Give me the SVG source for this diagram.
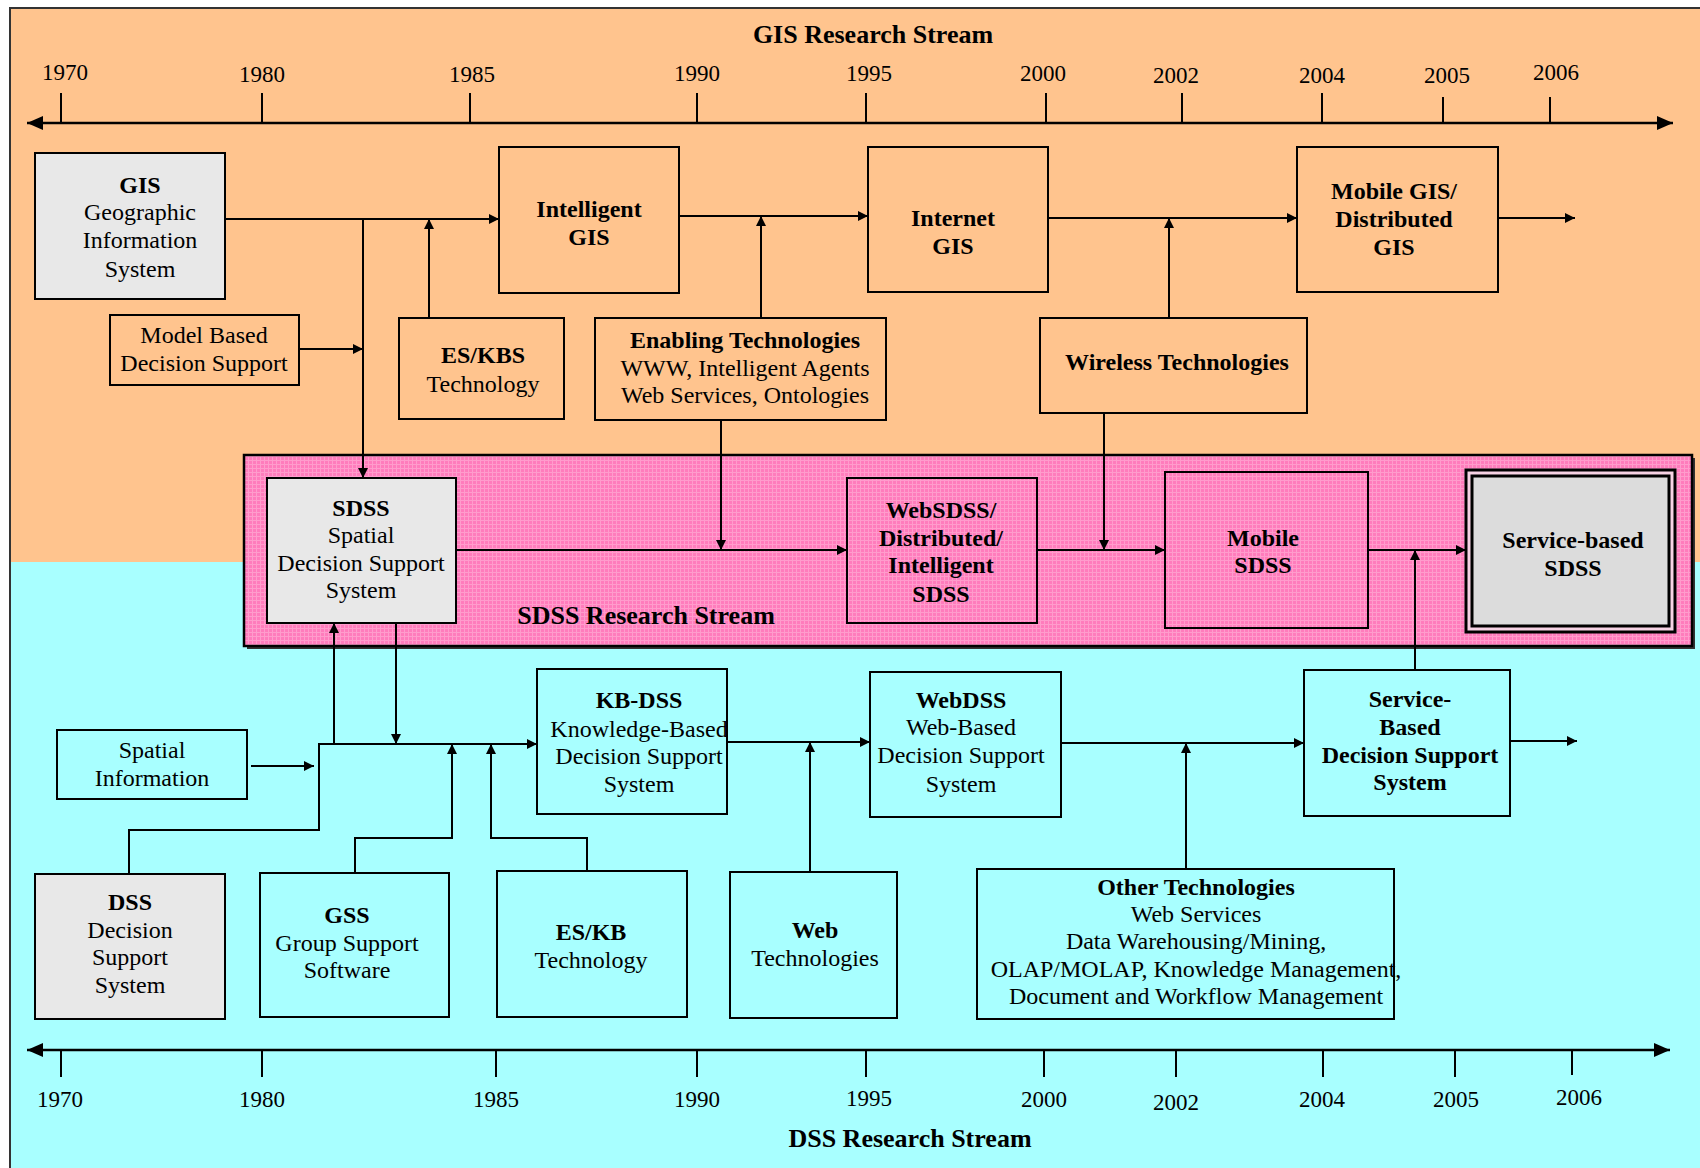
<svg xmlns="http://www.w3.org/2000/svg" width="1700" height="1168" viewBox="0 0 1700 1168">
  <defs>
    <style>
      text { font-family: "Liberation Serif", "Times New Roman", serif; fill: #000; }
      .t { font-size: 24px; text-anchor: middle; }
      .b { font-weight: bold; }
      .yr { font-size: 23px; text-anchor: middle; }
      .title { font-size: 26px; font-weight: bold; text-anchor: middle; }
      .box { stroke: #000; stroke-width: 2; }
      .gis { fill: #ffc48e; }
      .dss { fill: #a8ffff; }
      .grey { fill: #e8e8e8; }
      .pk { fill: none; }
      .conn { fill: none; stroke: #000; stroke-width: 2; }
      .axis { fill: none; stroke: #000; stroke-width: 2.5; }
      .tick { stroke: #000; stroke-width: 2; }
    </style>
    <marker id="arr" viewBox="0 0 10 10" refX="10" refY="5" markerWidth="10" markerHeight="10" markerUnits="userSpaceOnUse" orient="auto">
      <path d="M0,0 L10,5 L0,10 Z" fill="#000"/>
    </marker>
    <marker id="big" viewBox="0 0 16 14" refX="16" refY="7" markerWidth="16" markerHeight="14" markerUnits="userSpaceOnUse" orient="auto-start-reverse">
      <path d="M0,0 L16,7 L0,14 Z" fill="#000"/>
    </marker>
    <pattern id="mesh" width="4" height="4" patternUnits="userSpaceOnUse">
      <rect width="4" height="4" fill="#ff7cbc"/>
      <path d="M0,0.5 H4 M0.5,0 V4" stroke="#ff9ccc" stroke-width="1"/>
    </pattern>
  </defs>

  <!-- background panels -->
  <rect x="0" y="0" width="1700" height="1168" fill="#ffffff"/>
  <rect x="10" y="8" width="1690" height="554" fill="#ffc48e"/>
  <rect x="10" y="562" width="1690" height="606" fill="#a8ffff"/>
  <path d="M10,1168 V8 H1700" fill="none" stroke="#333" stroke-width="2"/>

  <!-- SDSS research band -->
  <g id="sdss-band">
    <rect x="247" y="458" width="1448" height="191" fill="#333"/>
    <rect x="244" y="455" width="1448" height="191" fill="url(#mesh)" stroke="#000" stroke-width="2.5"/>
    <text class="title" x="646" y="624">SDSS Research Stream</text>
  </g>

  <!-- timelines -->
  <g id="gis-timeline">
    <text class="title" x="873" y="43">GIS Research Stream</text>
    <line class="axis" x1="27" y1="123" x2="1673" y2="123" marker-start="url(#big)" marker-end="url(#big)"/>
    <line class="tick" x1="61" y1="93" x2="61" y2="123"/>
    <line class="tick" x1="262" y1="93" x2="262" y2="123"/>
    <line class="tick" x1="470" y1="93" x2="470" y2="123"/>
    <line class="tick" x1="697" y1="93" x2="697" y2="123"/>
    <line class="tick" x1="866" y1="93" x2="866" y2="123"/>
    <line class="tick" x1="1046" y1="93" x2="1046" y2="123"/>
    <line class="tick" x1="1182" y1="93" x2="1182" y2="123"/>
    <line class="tick" x1="1322" y1="93" x2="1322" y2="123"/>
    <line class="tick" x1="1443" y1="97" x2="1443" y2="123"/>
    <line class="tick" x1="1550" y1="97" x2="1550" y2="123"/>
    <text class="yr" x="65" y="80">1970</text>
    <text class="yr" x="262" y="82">1980</text>
    <text class="yr" x="472" y="82">1985</text>
    <text class="yr" x="697" y="81">1990</text>
    <text class="yr" x="869" y="81">1995</text>
    <text class="yr" x="1043" y="81">2000</text>
    <text class="yr" x="1176" y="83">2002</text>
    <text class="yr" x="1322" y="83">2004</text>
    <text class="yr" x="1447" y="83">2005</text>
    <text class="yr" x="1556" y="80">2006</text>
  </g>

  <g id="dss-timeline">
    <line class="axis" x1="27" y1="1050" x2="1670" y2="1050" marker-start="url(#big)" marker-end="url(#big)"/>
    <line class="tick" x1="61" y1="1050" x2="61" y2="1077"/>
    <line class="tick" x1="262" y1="1050" x2="262" y2="1077"/>
    <line class="tick" x1="496" y1="1050" x2="496" y2="1077"/>
    <line class="tick" x1="697" y1="1050" x2="697" y2="1077"/>
    <line class="tick" x1="866" y1="1050" x2="866" y2="1077"/>
    <line class="tick" x1="1044" y1="1050" x2="1044" y2="1077"/>
    <line class="tick" x1="1176" y1="1050" x2="1176" y2="1077"/>
    <line class="tick" x1="1323" y1="1050" x2="1323" y2="1077"/>
    <line class="tick" x1="1455" y1="1050" x2="1455" y2="1077"/>
    <line class="tick" x1="1572" y1="1050" x2="1572" y2="1075"/>
    <text class="yr" x="60" y="1107">1970</text>
    <text class="yr" x="262" y="1107">1980</text>
    <text class="yr" x="496" y="1107">1985</text>
    <text class="yr" x="697" y="1107">1990</text>
    <text class="yr" x="869" y="1106">1995</text>
    <text class="yr" x="1044" y="1107">2000</text>
    <text class="yr" x="1176" y="1110">2002</text>
    <text class="yr" x="1322" y="1107">2004</text>
    <text class="yr" x="1456" y="1107">2005</text>
    <text class="yr" x="1579" y="1105">2006</text>
    <text class="title" x="910" y="1147">DSS Research Stream</text>
  </g>

  <!-- connectors -->
  <g id="connectors">
    <!-- GIS stream -->
    <line class="conn" x1="225" y1="219" x2="499" y2="219" marker-end="url(#arr)"/>
    <line class="conn" x1="363" y1="219" x2="363" y2="478" marker-end="url(#arr)"/>
    <line class="conn" x1="299" y1="349" x2="363" y2="349" marker-end="url(#arr)"/>
    <line class="conn" x1="429" y1="318" x2="429" y2="219" marker-end="url(#arr)"/>
    <line class="conn" x1="679" y1="216" x2="868" y2="216" marker-end="url(#arr)"/>
    <line class="conn" x1="761" y1="318" x2="761" y2="216" marker-end="url(#arr)"/>
    <line class="conn" x1="1048" y1="218" x2="1297" y2="218" marker-end="url(#arr)"/>
    <line class="conn" x1="1169" y1="318" x2="1169" y2="218" marker-end="url(#arr)"/>
    <line class="conn" x1="1498" y1="218" x2="1575" y2="218" marker-end="url(#arr)"/>
    <!-- SDSS stream -->
    <line class="conn" x1="456" y1="550" x2="847" y2="550" marker-end="url(#arr)"/>
    <line class="conn" x1="721" y1="420" x2="721" y2="550" marker-end="url(#arr)"/>
    <line class="conn" x1="1037" y1="550" x2="1165" y2="550" marker-end="url(#arr)"/>
    <line class="conn" x1="1104" y1="413" x2="1104" y2="550" marker-end="url(#arr)"/>
    <line class="conn" x1="1368" y1="550" x2="1466" y2="550" marker-end="url(#arr)"/>
    <line class="conn" x1="1415" y1="670" x2="1415" y2="550" marker-end="url(#arr)"/>
    <!-- DSS stream -->
    <path class="conn" d="M129,874 V830 H319 V744 H537" marker-end="url(#arr)"/>
    <line class="conn" x1="334" y1="744" x2="334" y2="623" marker-end="url(#arr)"/>
    <line class="conn" x1="396" y1="623" x2="396" y2="744" marker-end="url(#arr)"/>
    <line class="conn" x1="251" y1="766" x2="314" y2="766" marker-end="url(#arr)"/>
    <path class="conn" d="M355,872 V838 H452 V744" marker-end="url(#arr)"/>
    <path class="conn" d="M587,871 V838 H491 V744" marker-end="url(#arr)"/>
    <line class="conn" x1="727" y1="742" x2="870" y2="742" marker-end="url(#arr)"/>
    <line class="conn" x1="810" y1="872" x2="810" y2="742" marker-end="url(#arr)"/>
    <line class="conn" x1="1061" y1="743" x2="1304" y2="743" marker-end="url(#arr)"/>
    <line class="conn" x1="1186" y1="869" x2="1186" y2="743" marker-end="url(#arr)"/>
    <line class="conn" x1="1510" y1="741" x2="1577" y2="741" marker-end="url(#arr)"/>
  </g>

  <!-- GIS stream nodes -->
  <g id="gis">
    <rect class="box grey" x="35" y="153" width="190" height="146"/>
    <text class="t b" x="140" y="193">GIS</text>
    <text class="t" x="140" y="220">Geographic</text>
    <text class="t" x="140" y="248">Information</text>
    <text class="t" x="140" y="277">System</text>
  </g>
  <g id="intelligent-gis">
    <rect class="box gis" x="499" y="147" width="180" height="146"/>
    <text class="t b" x="589" y="217">Intelligent</text>
    <text class="t b" x="589" y="245">GIS</text>
  </g>
  <g id="internet-gis">
    <rect class="box gis" x="868" y="147" width="180" height="145"/>
    <text class="t b" x="953" y="226">Internet</text>
    <text class="t b" x="953" y="254">GIS</text>
  </g>
  <g id="mobile-gis">
    <rect class="box gis" x="1297" y="147" width="201" height="145"/>
    <text class="t b" x="1394" y="199">Mobile GIS/</text>
    <text class="t b" x="1394" y="227">Distributed</text>
    <text class="t b" x="1394" y="255">GIS</text>
  </g>
  <g id="model-based">
    <rect class="box gis" x="110" y="315" width="189" height="70"/>
    <text class="t" x="204" y="343">Model Based</text>
    <text class="t" x="204" y="371">Decision Support</text>
  </g>
  <g id="es-kbs">
    <rect class="box gis" x="399" y="318" width="165" height="101"/>
    <text class="t b" x="483" y="363">ES/KBS</text>
    <text class="t" x="483" y="392">Technology</text>
  </g>
  <g id="enabling-technologies">
    <rect class="box gis" x="595" y="318" width="291" height="102"/>
    <text class="t b" x="745" y="348">Enabling Technologies</text>
    <text class="t" x="745" y="376">WWW, Intelligent Agents</text>
    <text class="t" x="745" y="403">Web Services, Ontologies</text>
  </g>
  <g id="wireless-technologies">
    <rect class="box gis" x="1040" y="318" width="267" height="95"/>
    <text class="t b" x="1177" y="370">Wireless Technologies</text>
  </g>

  <!-- SDSS stream nodes -->
  <g id="sdss">
    <rect class="box grey" x="267" y="478" width="189" height="145"/>
    <text class="t b" x="361" y="516">SDSS</text>
    <text class="t" x="361" y="543">Spatial</text>
    <text class="t" x="361" y="571">Decision Support</text>
    <text class="t" x="361" y="598">System</text>
  </g>
  <g id="web-sdss">
    <rect class="box pk" x="847" y="478" width="190" height="145"/>
    <text class="t b" x="941" y="518">WebSDSS/</text>
    <text class="t b" x="941" y="546">Distributed/</text>
    <text class="t b" x="941" y="573">Intelligent</text>
    <text class="t b" x="941" y="602">SDSS</text>
  </g>
  <g id="mobile-sdss">
    <rect class="box pk" x="1165" y="472" width="203" height="156"/>
    <text class="t b" x="1263" y="546">Mobile</text>
    <text class="t b" x="1263" y="573">SDSS</text>
  </g>
  <g id="service-based-sdss">
    <rect x="1466" y="470" width="209" height="162" fill="#f6d2e4" stroke="#000" stroke-width="3"/>
    <rect x="1472" y="476" width="197" height="150" fill="#dcdcdc" stroke="#000" stroke-width="3"/>
    <text class="t b" x="1573" y="548">Service-based</text>
    <text class="t b" x="1573" y="576">SDSS</text>
  </g>

  <!-- DSS stream nodes -->
  <g id="spatial-information">
    <rect class="box dss" x="57" y="730" width="190" height="69"/>
    <text class="t" x="152" y="758">Spatial</text>
    <text class="t" x="152" y="786">Information</text>
  </g>
  <g id="kb-dss">
    <rect class="box dss" x="537" y="669" width="190" height="145"/>
    <text class="t b" x="639" y="708">KB-DSS</text>
    <text class="t" x="639" y="737">Knowledge-Based</text>
    <text class="t" x="639" y="764">Decision Support</text>
    <text class="t" x="639" y="792">System</text>
  </g>
  <g id="web-dss">
    <rect class="box dss" x="870" y="672" width="191" height="145"/>
    <text class="t b" x="961" y="708">WebDSS</text>
    <text class="t" x="961" y="735">Web-Based</text>
    <text class="t" x="961" y="763">Decision Support</text>
    <text class="t" x="961" y="792">System</text>
  </g>
  <g id="service-based-dss">
    <rect class="box dss" x="1304" y="670" width="206" height="146"/>
    <text class="t b" x="1410" y="707">Service-</text>
    <text class="t b" x="1410" y="735">Based</text>
    <text class="t b" x="1410" y="763">Decision Support</text>
    <text class="t b" x="1410" y="790">System</text>
  </g>
  <g id="dss">
    <rect class="box grey" x="35" y="874" width="190" height="145"/>
    <text class="t b" x="130" y="910">DSS</text>
    <text class="t" x="130" y="938">Decision</text>
    <text class="t" x="130" y="965">Support</text>
    <text class="t" x="130" y="993">System</text>
  </g>
  <g id="gss">
    <rect class="box dss" x="260" y="873" width="189" height="144"/>
    <text class="t b" x="347" y="923">GSS</text>
    <text class="t" x="347" y="951">Group Support</text>
    <text class="t" x="347" y="978">Software</text>
  </g>
  <g id="es-kb">
    <rect class="box dss" x="497" y="871" width="190" height="146"/>
    <text class="t b" x="591" y="940">ES/KB</text>
    <text class="t" x="591" y="968">Technology</text>
  </g>
  <g id="web-technologies">
    <rect class="box dss" x="730" y="872" width="167" height="146"/>
    <text class="t b" x="815" y="938">Web</text>
    <text class="t" x="815" y="966">Technologies</text>
  </g>
  <g id="other-technologies">
    <rect class="box dss" x="977" y="869" width="417" height="150"/>
    <text class="t b" x="1196" y="895">Other Technologies</text>
    <text class="t" x="1196" y="922">Web Services</text>
    <text class="t" x="1196" y="949">Data Warehousing/Mining,</text>
    <text class="t" x="1196" y="977">OLAP/MOLAP, Knowledge Management,</text>
    <text class="t" x="1196" y="1004">Document and Workflow Management</text>
  </g>
</svg>
